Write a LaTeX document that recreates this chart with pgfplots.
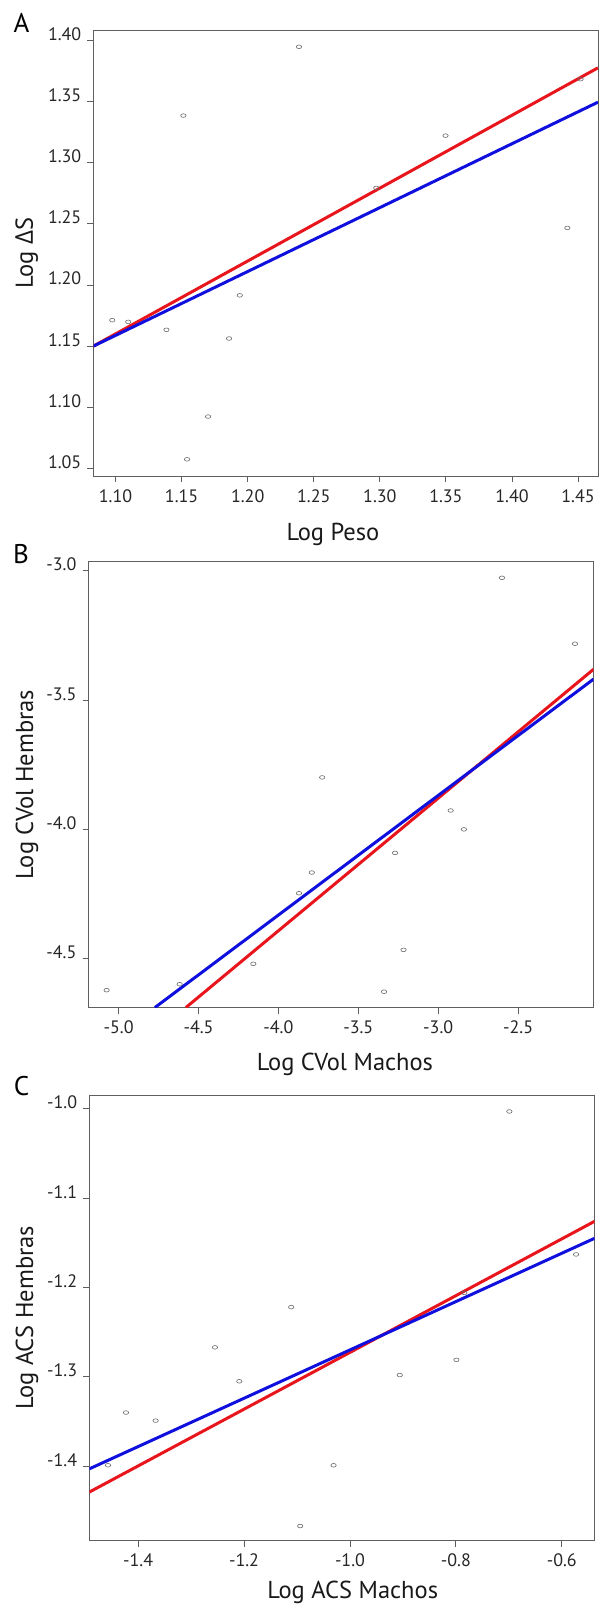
\documentclass[border=0pt]{standalone}
\usepackage{fontspec}
\setmainfont{PT Sans}
\newfontfamily\deltafont{Open Sans}
\usepackage{pgfplots}
\pgfplotsset{compat=1.18}
\definecolor{fitred}{RGB}{232,22,28}
\definecolor{fitblue}{RGB}{16,16,222}
\definecolor{framegray}{RGB}{95,95,95}
\definecolor{ptgray}{RGB}{105,105,105}
\pgfplotsset{
  panel/.style={
    scale only axis,
    axis line style={framegray, line width=0.9pt},
    every tick/.style={framegray, line width=0.9pt},
    tick align=outside,
    major tick length=6pt,
    xtick pos=bottom, ytick pos=left,
    /pgf/number format/assume math mode=true,
    tick label style={font=\fontsize{18}{20}\selectfont, text=black!85},
    label style={font=\fontsize{24.5}{28}\selectfont, text=black!90},
    yticklabel style={anchor=base east, inner sep=0pt, xshift=-6pt},
    xticklabel style={anchor=north, inner sep=0pt, yshift=-7pt},
    xlabel style={anchor=base},
    ylabel style={anchor=base},
    clip=true,
  },
  pts/.style={only marks, mark=o, mark size=2.7pt,
    mark options={ptgray, line width=0.6pt, yscale=0.68}},
  fitr/.style={fitred, line width=3pt, no marks},
  fitb/.style={fitblue, line width=3pt, no marks},
}
\begin{document}
\begin{tikzpicture}
\path[use as bounding box] (0pt,0pt) rectangle (598pt,-1604pt);

% ---------------- Panel A ----------------
\begin{axis}[panel,
  at={(93.5pt,-476.2pt)}, anchor=south west,
  width=504.5pt, height=445.9pt,
  xmin=1.0833, xmax=1.4651, ymin=1.0435, ymax=1.4084,
  xtick={1.10,1.15,1.20,1.25,1.30,1.35,1.40,1.45},
  ytick={1.05,1.10,1.15,1.20,1.25,1.30,1.35,1.40},
  xticklabel style={/pgf/number format/.cd, fixed, fixed zerofill, precision=2},
  yticklabel style={/pgf/number format/.cd, fixed, fixed zerofill, precision=2},
  xlabel={Log Peso}, ylabel={Log {\deltafont Δ}S},
  xlabel style={at={(axis description cs:0.4747,-0.1431)}},
  ylabel style={at={(axis description cs:-0.120,0.5)}},
]
\addplot[fitr] coordinates {(1.0833,1.1500) (1.4651,1.3777)};
\addplot[fitb] coordinates {(1.0833,1.1500) (1.4651,1.3496)};
\addplot[pts] coordinates {
  (1.0975,1.1712) (1.1096,1.1698) (1.1385,1.1633) (1.1513,1.3386)
  (1.1541,1.0573) (1.1700,1.0923) (1.1859,1.1562) (1.1940,1.1915)
  (1.2388,1.3949) (1.2973,1.2794) (1.3497,1.3222) (1.4419,1.2467)
  (1.4519,1.3684)
};
\end{axis}
\node[font=\fontsize{27}{30}\selectfont] at (21.5pt,-23pt) {A};

% ---------------- Panel B ----------------
\begin{axis}[panel,
  at={(88.6pt,-1007.5pt)}, anchor=south west,
  width=504.9pt, height=446pt,
  xmin=-5.188, xmax=-2.028, ymin=-4.689, ymax=-2.964,
  xtick={-5.0,-4.5,-4.0,-3.5,-3.0,-2.5},
  ytick={-4.5,-4.0,-3.5,-3.0},
  xticklabel style={/pgf/number format/.cd, fixed, fixed zerofill, precision=1},
  yticklabel style={/pgf/number format/.cd, fixed, fixed zerofill, precision=1},
  xlabel={Log CVol Machos}, ylabel={Log CVol Hembras},
  xlabel style={at={(axis description cs:0.5078,-0.1413)}},
  ylabel style={at={(axis description cs:-0.110,0.5)}},
]
\addplot[fitr] coordinates {(-4.579,-4.689) (-2.028,-3.381)};
\addplot[fitb] coordinates {(-4.773,-4.689) (-2.028,-3.419)};
\addplot[pts] coordinates {
  (-5.075,-4.622) (-4.618,-4.599) (-4.157,-4.520) (-3.871,-4.247)
  (-3.791,-4.167) (-3.726,-3.799) (-3.339,-4.628) (-3.270,-4.091)
  (-3.217,-4.466) (-2.922,-3.927) (-2.839,-4.000) (-2.601,-3.027)
  (-2.144,-3.282)
};
\end{axis}
\node[font=\fontsize{27}{30}\selectfont] at (21pt,-554pt) {B};

% ---------------- Panel C ----------------
\begin{axis}[panel,
  at={(89.3pt,-1540.6pt)}, anchor=south west,
  width=505.2pt, height=445.6pt,
  xmin=-1.4923, xmax=-0.5382, ymin=-1.4833, ymax=-0.9846,
  xtick={-1.4,-1.2,-1.0,-0.8,-0.6},
  ytick={-1.4,-1.3,-1.2,-1.1,-1.0},
  xticklabel style={/pgf/number format/.cd, fixed, fixed zerofill, precision=1},
  yticklabel style={/pgf/number format/.cd, fixed, fixed zerofill, precision=1},
  xlabel={Log ACS Machos}, ylabel={Log ACS Hembras},
  xlabel style={at={(axis description cs:0.5214,-0.1297)}},
  ylabel style={at={(axis description cs:-0.1114,0.5)}},
]
\addplot[fitr] coordinates {(-1.4923,-1.429) (-0.5382,-1.126)};
\addplot[fitb] coordinates {(-1.4923,-1.403) (-0.5382,-1.145)};
\addplot[pts] coordinates {
  (-1.457,-1.399) (-1.423,-1.340) (-1.367,-1.349) (-1.255,-1.267)
  (-1.209,-1.305) (-1.111,-1.222) (-1.094,-1.467) (-1.031,-1.399)
  (-0.906,-1.298) (-0.799,-1.281) (-0.699,-1.003) (-0.573,-1.163)
  (-0.784,-1.206)
};
\end{axis}
\node[font=\fontsize{27}{30}\selectfont] at (21.5pt,-1086pt) {C};
\end{tikzpicture}
\end{document}
